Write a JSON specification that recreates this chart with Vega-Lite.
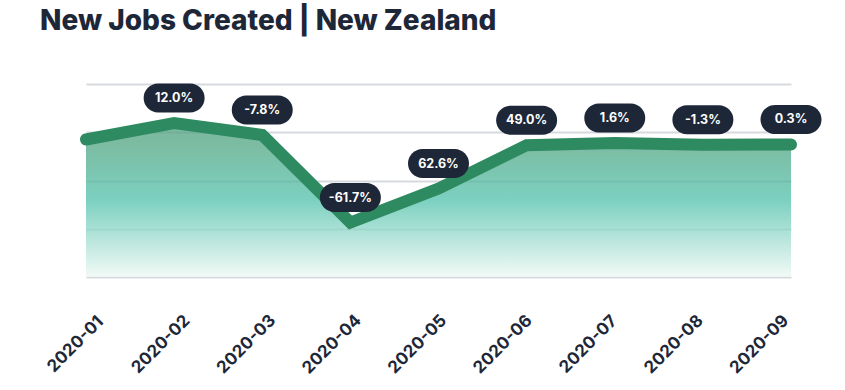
{
  "$schema": "https://vega.github.io/schema/vega-lite/v6.json",
  "width": 705,
  "height": 193,
  "autosize": {"type": "none"},
  "padding": {"left": 86, "top": 84, "right": 54, "bottom": 113},
  "background": "white",
  "title": {
    "text": "New Jobs Created | New Zealand",
    "anchor": "start",
    "frame": "group",
    "dx": -46,
    "offset": 25,
    "baseline": "alphabetic",
    "font": "Inter",
    "fontSize": 28,
    "fontWeight": 800,
    "color": "#1e2738"
  },
  "data": {
    "values": [
      {"month": "2020-01", "jobs": 28500, "change": ""},
      {"month": "2020-02", "jobs": 31920, "change": "12.0%"},
      {"month": "2020-03", "jobs": 29430, "change": "-7.8%"},
      {"month": "2020-04", "jobs": 11270, "change": "-61.7%"},
      {"month": "2020-05", "jobs": 18330, "change": "62.6%"},
      {"month": "2020-06", "jobs": 27310, "change": "49.0%"},
      {"month": "2020-07", "jobs": 27750, "change": "1.6%"},
      {"month": "2020-08", "jobs": 27390, "change": "-1.3%"},
      {"month": "2020-09", "jobs": 27470, "change": "0.3%"}
    ]
  },
  "encoding": {
    "x": {
      "field": "month",
      "type": "ordinal",
      "scale": {"type": "point", "padding": 0},
      "axis": {
        "title": null,
        "domain": false,
        "ticks": false,
        "grid": false,
        "labelAngle": -45,
        "labelAlign": "center",
        "labelBaseline": "middle",
        "labelPadding": 67,
        "labelOffset": {"expr": "-11 - 21*datum.index"},
        "labelFont": "Inter",
        "labelFontSize": 17,
        "labelFontWeight": "bold",
        "labelColor": "#1e2738"
      }
    },
    "y": {
      "field": "jobs",
      "type": "quantitative",
      "scale": {"domain": [0, 40000], "nice": false},
      "axis": {
        "title": null,
        "labels": false,
        "ticks": false,
        "domain": false,
        "values": [0, 10000, 20000, 30000, 40000],
        "grid": true,
        "gridColor": "#d6dade",
        "gridWidth": 2
      }
    }
  },
  "layer": [
    {
      "mark": {
        "type": "area",
        "opacity": 0.75,
        "color": {
          "gradient": "linear",
          "x1": 0, "y1": 0, "x2": 0, "y2": 1,
          "stops": [
            {"offset": 0, "color": "#4fa07e"},
            {"offset": 0.15, "color": "#50a684"},
            {"offset": 0.5, "color": "#50c1ab"},
            {"offset": 1, "color": "#eef8f4"}
          ]
        }
      }
    },
    {
      "mark": {
        "type": "line",
        "color": "#2e8a61",
        "strokeWidth": 12,
        "strokeCap": "round",
        "strokeJoin": "miter"
      }
    },
    {
      "transform": [{"filter": "datum.change != ''"}],
      "mark": {
        "type": "rect",
        "width": 61,
        "height": 29,
        "cornerRadius": 14.5,
        "yOffset": -25,
        "color": "#1e2738"
      }
    },
    {
      "transform": [{"filter": "datum.change != ''"}],
      "mark": {
        "type": "text",
        "yOffset": -25,
        "baseline": "middle",
        "align": "center",
        "font": "Inter",
        "fontSize": 12.5,
        "fontWeight": "bold",
        "color": "white"
      },
      "encoding": {"text": {"field": "change"}}
    }
  ],
  "config": {"view": {"stroke": null}}
}
